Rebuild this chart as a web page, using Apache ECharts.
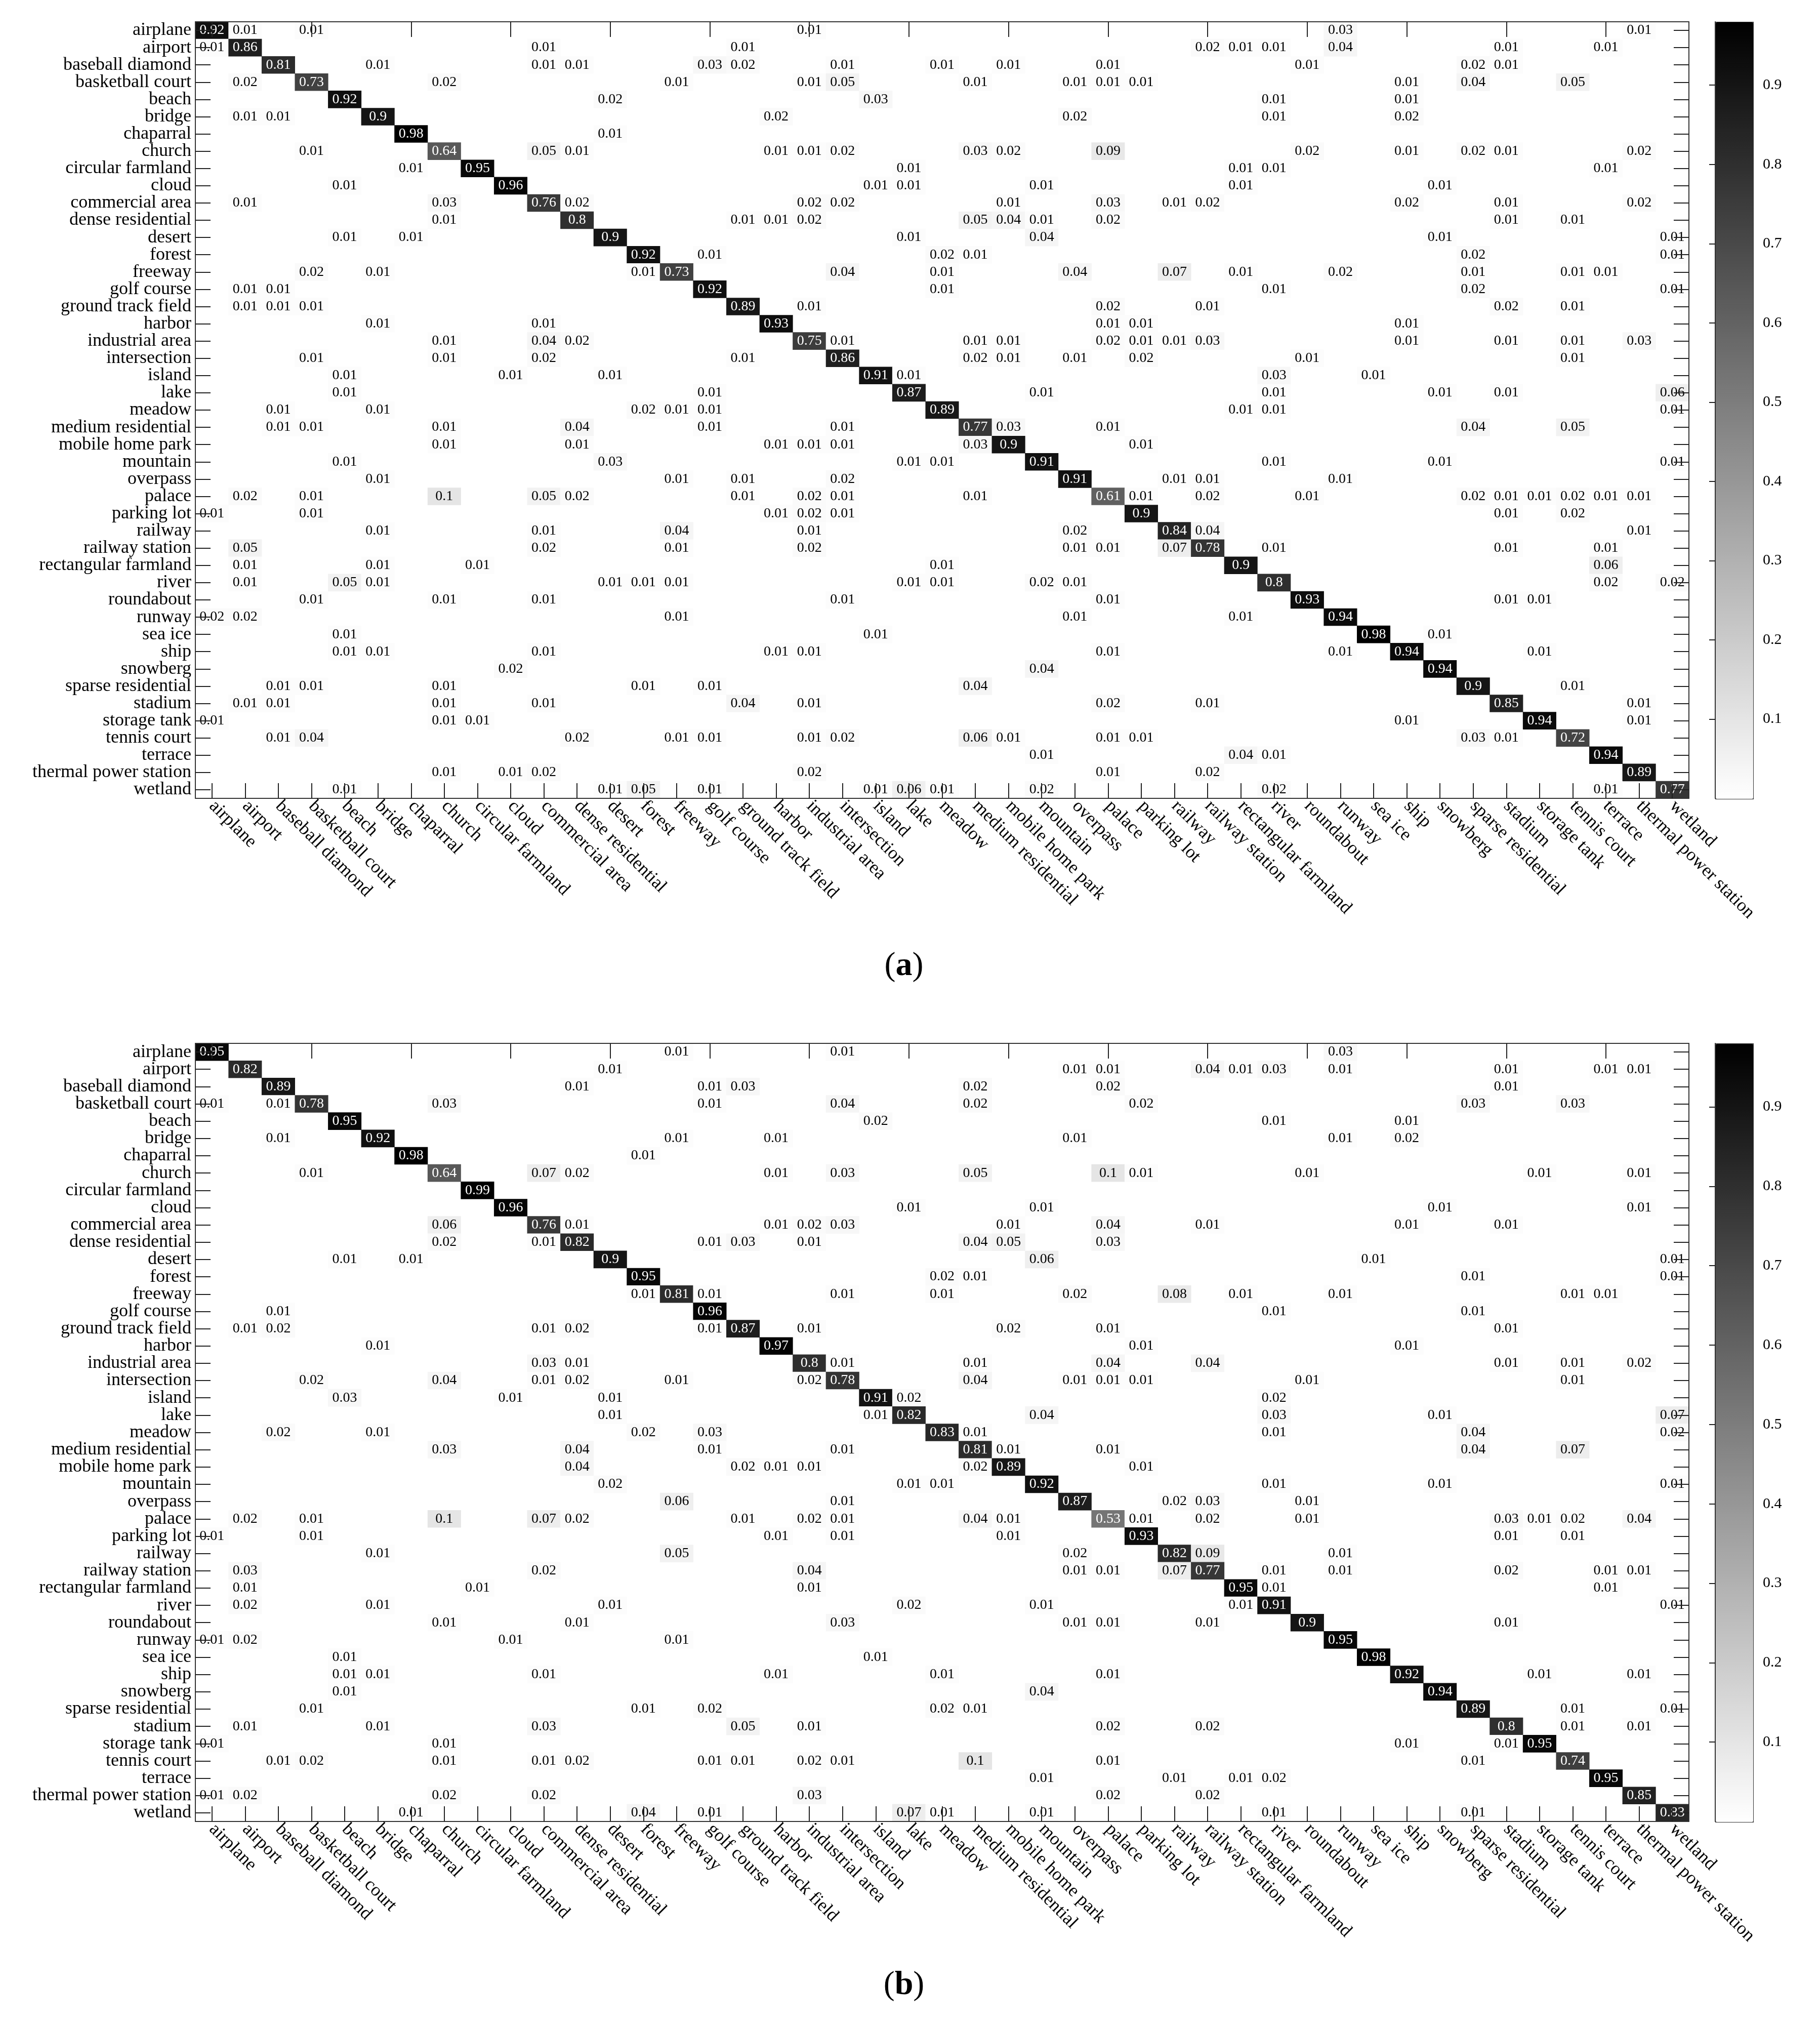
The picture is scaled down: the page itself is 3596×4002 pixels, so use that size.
<!DOCTYPE html>
<html>
<head>
<meta charset="utf-8">
<script src="https://cdn.jsdelivr.net/npm/echarts@6/dist/echarts.min.js"></script>
<style>
  html, body { margin: 0; padding: 0; background: #fff; }
  #chart { width: 3596px; height: 4002px; }
</style>
</head>
<body>
<div id="chart"></div>
<script>
// class names (rows = true class, columns = predicted class)
const classes = [
  'airplane', 'airport', 'baseball diamond', 'basketball court', 'beach', 'bridge',
  'chaparral', 'church', 'circular farmland', 'cloud', 'commercial area',
  'dense residential', 'desert', 'forest', 'freeway', 'golf course',
  'ground track field', 'harbor', 'industrial area', 'intersection', 'island',
  'lake', 'meadow', 'medium residential', 'mobile home park', 'mountain',
  'overpass', 'palace', 'parking lot', 'railway', 'railway station',
  'rectangular farmland', 'river', 'roundabout', 'runway', 'sea ice', 'ship',
  'snowberg', 'sparse residential', 'stadium', 'storage tank', 'tennis court',
  'terrace', 'thermal power station', 'wetland'
];

// matrix (a): one row per true class, [column, value] for non-zero cells
const confA = [
  [[0,0.92],[1,0.01],[3,0.01],[18,0.01],[34,0.03],[43,0.01]],
  [[0,0.01],[1,0.86],[10,0.01],[16,0.01],[30,0.02],[31,0.01],[32,0.01],[34,0.04],[39,0.01],[42,0.01]],
  [[2,0.81],[5,0.01],[10,0.01],[11,0.01],[15,0.03],[16,0.02],[19,0.01],[22,0.01],[24,0.01],[27,0.01],[33,0.01],[38,0.02],[39,0.01]],
  [[1,0.02],[3,0.73],[7,0.02],[14,0.01],[18,0.01],[19,0.05],[23,0.01],[26,0.01],[27,0.01],[28,0.01],[36,0.01],[38,0.04],[41,0.05]],
  [[4,0.92],[12,0.02],[20,0.03],[32,0.01],[36,0.01]],
  [[1,0.01],[2,0.01],[5,0.9],[17,0.02],[26,0.02],[32,0.01],[36,0.02]],
  [[6,0.98],[12,0.01]],
  [[3,0.01],[7,0.64],[10,0.05],[11,0.01],[17,0.01],[18,0.01],[19,0.02],[23,0.03],[24,0.02],[27,0.09],[33,0.02],[36,0.01],[38,0.02],[39,0.01],[43,0.02]],
  [[6,0.01],[8,0.95],[21,0.01],[31,0.01],[32,0.01],[42,0.01]],
  [[4,0.01],[9,0.96],[20,0.01],[21,0.01],[25,0.01],[31,0.01],[37,0.01]],
  [[1,0.01],[7,0.03],[10,0.76],[11,0.02],[18,0.02],[19,0.02],[24,0.01],[27,0.03],[29,0.01],[30,0.02],[36,0.02],[39,0.01],[43,0.02]],
  [[7,0.01],[11,0.8],[16,0.01],[17,0.01],[18,0.02],[23,0.05],[24,0.04],[25,0.01],[27,0.02],[39,0.01],[41,0.01]],
  [[4,0.01],[6,0.01],[12,0.9],[21,0.01],[25,0.04],[37,0.01],[44,0.01]],
  [[13,0.92],[15,0.01],[22,0.02],[23,0.01],[38,0.02],[44,0.01]],
  [[3,0.02],[5,0.01],[13,0.01],[14,0.73],[19,0.04],[22,0.01],[26,0.04],[29,0.07],[31,0.01],[34,0.02],[38,0.01],[41,0.01],[42,0.01]],
  [[1,0.01],[2,0.01],[15,0.92],[22,0.01],[32,0.01],[38,0.02],[44,0.01]],
  [[1,0.01],[2,0.01],[3,0.01],[16,0.89],[18,0.01],[27,0.02],[30,0.01],[39,0.02],[41,0.01]],
  [[5,0.01],[10,0.01],[17,0.93],[27,0.01],[28,0.01],[36,0.01]],
  [[7,0.01],[10,0.04],[11,0.02],[18,0.75],[19,0.01],[23,0.01],[24,0.01],[27,0.02],[28,0.01],[29,0.01],[30,0.03],[36,0.01],[39,0.01],[41,0.01],[43,0.03]],
  [[3,0.01],[7,0.01],[10,0.02],[16,0.01],[19,0.86],[23,0.02],[24,0.01],[26,0.01],[28,0.02],[33,0.01],[41,0.01]],
  [[4,0.01],[9,0.01],[12,0.01],[20,0.91],[21,0.01],[32,0.03],[35,0.01]],
  [[4,0.01],[15,0.01],[21,0.87],[25,0.01],[32,0.01],[37,0.01],[39,0.01],[44,0.06]],
  [[2,0.01],[5,0.01],[13,0.02],[14,0.01],[15,0.01],[22,0.89],[31,0.01],[32,0.01],[44,0.01]],
  [[2,0.01],[3,0.01],[7,0.01],[11,0.04],[15,0.01],[19,0.01],[23,0.77],[24,0.03],[27,0.01],[38,0.04],[41,0.05]],
  [[7,0.01],[11,0.01],[17,0.01],[18,0.01],[19,0.01],[23,0.03],[24,0.9],[28,0.01]],
  [[4,0.01],[12,0.03],[21,0.01],[22,0.01],[25,0.91],[32,0.01],[37,0.01],[44,0.01]],
  [[5,0.01],[14,0.01],[16,0.01],[19,0.02],[26,0.91],[29,0.01],[30,0.01],[34,0.01]],
  [[1,0.02],[3,0.01],[7,0.1],[10,0.05],[11,0.02],[16,0.01],[18,0.02],[19,0.01],[23,0.01],[27,0.61],[28,0.01],[30,0.02],[33,0.01],[38,0.02],[39,0.01],[40,0.01],[41,0.02],[42,0.01],[43,0.01]],
  [[0,0.01],[3,0.01],[17,0.01],[18,0.02],[19,0.01],[28,0.9],[39,0.01],[41,0.02]],
  [[5,0.01],[10,0.01],[14,0.04],[18,0.01],[26,0.02],[29,0.84],[30,0.04],[43,0.01]],
  [[1,0.05],[10,0.02],[14,0.01],[18,0.02],[26,0.01],[27,0.01],[29,0.07],[30,0.78],[32,0.01],[39,0.01],[42,0.01]],
  [[1,0.01],[5,0.01],[8,0.01],[22,0.01],[31,0.9],[42,0.06]],
  [[1,0.01],[4,0.05],[5,0.01],[12,0.01],[13,0.01],[14,0.01],[21,0.01],[22,0.01],[25,0.02],[26,0.01],[32,0.8],[42,0.02],[44,0.02]],
  [[3,0.01],[7,0.01],[10,0.01],[19,0.01],[27,0.01],[33,0.93],[39,0.01],[40,0.01]],
  [[0,0.02],[1,0.02],[14,0.01],[26,0.01],[31,0.01],[34,0.94]],
  [[4,0.01],[20,0.01],[35,0.98],[37,0.01]],
  [[4,0.01],[5,0.01],[10,0.01],[17,0.01],[18,0.01],[27,0.01],[34,0.01],[36,0.94],[40,0.01]],
  [[9,0.02],[25,0.04],[37,0.94]],
  [[2,0.01],[3,0.01],[7,0.01],[13,0.01],[15,0.01],[23,0.04],[38,0.9],[41,0.01]],
  [[1,0.01],[2,0.01],[7,0.01],[10,0.01],[16,0.04],[18,0.01],[27,0.02],[30,0.01],[39,0.85],[43,0.01]],
  [[0,0.01],[7,0.01],[8,0.01],[36,0.01],[40,0.94],[43,0.01]],
  [[2,0.01],[3,0.04],[11,0.02],[14,0.01],[15,0.01],[18,0.01],[19,0.02],[23,0.06],[24,0.01],[27,0.01],[28,0.01],[38,0.03],[39,0.01],[41,0.72]],
  [[25,0.01],[31,0.04],[32,0.01],[42,0.94]],
  [[7,0.01],[9,0.01],[10,0.02],[18,0.02],[27,0.01],[30,0.02],[43,0.89]],
  [[4,0.01],[12,0.01],[13,0.05],[15,0.01],[20,0.01],[21,0.06],[22,0.01],[25,0.02],[32,0.02],[42,0.01],[44,0.77]]
];

// matrix (b)
const confB = [
  [[0,0.95],[14,0.01],[19,0.01],[34,0.03]],
  [[1,0.82],[12,0.01],[26,0.01],[27,0.01],[30,0.04],[31,0.01],[32,0.03],[34,0.01],[39,0.01],[42,0.01],[43,0.01]],
  [[2,0.89],[11,0.01],[15,0.01],[16,0.03],[23,0.02],[27,0.02],[39,0.01]],
  [[0,0.01],[2,0.01],[3,0.78],[7,0.03],[15,0.01],[19,0.04],[23,0.02],[28,0.02],[38,0.03],[41,0.03]],
  [[4,0.95],[20,0.02],[32,0.01],[36,0.01]],
  [[2,0.01],[5,0.92],[14,0.01],[17,0.01],[26,0.01],[34,0.01],[36,0.02]],
  [[6,0.98],[13,0.01]],
  [[3,0.01],[7,0.64],[10,0.07],[11,0.02],[17,0.01],[19,0.03],[23,0.05],[27,0.1],[28,0.01],[33,0.01],[40,0.01],[43,0.01]],
  [[8,0.99]],
  [[9,0.96],[21,0.01],[25,0.01],[37,0.01],[43,0.01]],
  [[7,0.06],[10,0.76],[11,0.01],[17,0.01],[18,0.02],[19,0.03],[24,0.01],[27,0.04],[30,0.01],[36,0.01],[39,0.01]],
  [[7,0.02],[10,0.01],[11,0.82],[15,0.01],[16,0.03],[18,0.01],[23,0.04],[24,0.05],[27,0.03]],
  [[4,0.01],[6,0.01],[12,0.9],[25,0.06],[35,0.01],[44,0.01]],
  [[13,0.95],[22,0.02],[23,0.01],[38,0.01],[44,0.01]],
  [[13,0.01],[14,0.81],[15,0.01],[19,0.01],[22,0.01],[26,0.02],[29,0.08],[31,0.01],[34,0.01],[41,0.01],[42,0.01]],
  [[2,0.01],[15,0.96],[32,0.01],[38,0.01]],
  [[1,0.01],[2,0.02],[10,0.01],[11,0.02],[15,0.01],[16,0.87],[18,0.01],[24,0.02],[27,0.01],[39,0.01]],
  [[5,0.01],[17,0.97],[28,0.01],[36,0.01]],
  [[10,0.03],[11,0.01],[18,0.8],[19,0.01],[23,0.01],[27,0.04],[30,0.04],[39,0.01],[41,0.01],[43,0.02]],
  [[3,0.02],[7,0.04],[10,0.01],[11,0.02],[14,0.01],[18,0.02],[19,0.78],[23,0.04],[26,0.01],[27,0.01],[28,0.01],[33,0.01],[41,0.01]],
  [[4,0.03],[9,0.01],[12,0.01],[20,0.91],[21,0.02],[32,0.02]],
  [[12,0.01],[20,0.01],[21,0.82],[25,0.04],[32,0.03],[37,0.01],[44,0.07]],
  [[2,0.02],[5,0.01],[13,0.02],[15,0.03],[22,0.83],[23,0.01],[32,0.01],[38,0.04],[44,0.02]],
  [[7,0.03],[11,0.04],[15,0.01],[19,0.01],[23,0.81],[24,0.01],[27,0.01],[38,0.04],[41,0.07]],
  [[11,0.04],[16,0.02],[17,0.01],[18,0.01],[23,0.02],[24,0.89],[28,0.01]],
  [[12,0.02],[21,0.01],[22,0.01],[25,0.92],[32,0.01],[37,0.01],[44,0.01]],
  [[14,0.06],[19,0.01],[26,0.87],[29,0.02],[30,0.03],[33,0.01]],
  [[1,0.02],[3,0.01],[7,0.1],[10,0.07],[11,0.02],[16,0.01],[18,0.02],[19,0.01],[23,0.04],[24,0.01],[27,0.53],[28,0.01],[30,0.02],[33,0.01],[39,0.03],[40,0.01],[41,0.02],[43,0.04]],
  [[0,0.01],[3,0.01],[17,0.01],[19,0.01],[24,0.01],[28,0.93],[39,0.01],[41,0.01]],
  [[5,0.01],[14,0.05],[26,0.02],[29,0.82],[30,0.09],[34,0.01]],
  [[1,0.03],[10,0.02],[18,0.04],[26,0.01],[27,0.01],[29,0.07],[30,0.77],[32,0.01],[34,0.01],[39,0.02],[42,0.01],[43,0.01]],
  [[1,0.01],[8,0.01],[18,0.01],[31,0.95],[32,0.01],[42,0.01]],
  [[1,0.02],[5,0.01],[12,0.01],[21,0.02],[25,0.01],[31,0.01],[32,0.91],[44,0.01]],
  [[7,0.01],[11,0.01],[19,0.03],[26,0.01],[27,0.01],[30,0.01],[33,0.9],[39,0.01]],
  [[0,0.01],[1,0.02],[9,0.01],[14,0.01],[34,0.95]],
  [[4,0.01],[20,0.01],[35,0.98]],
  [[4,0.01],[5,0.01],[10,0.01],[17,0.01],[22,0.01],[27,0.01],[36,0.92],[40,0.01],[43,0.01]],
  [[4,0.01],[25,0.04],[37,0.94]],
  [[3,0.01],[13,0.01],[15,0.02],[22,0.02],[23,0.01],[38,0.89],[41,0.01],[44,0.01]],
  [[1,0.01],[5,0.01],[10,0.03],[16,0.05],[18,0.01],[27,0.02],[30,0.02],[39,0.8],[41,0.01],[43,0.01]],
  [[0,0.01],[7,0.01],[36,0.01],[39,0.01],[40,0.95]],
  [[2,0.01],[3,0.02],[7,0.01],[10,0.01],[11,0.02],[15,0.01],[16,0.01],[18,0.02],[19,0.01],[23,0.1],[27,0.01],[38,0.01],[41,0.74]],
  [[25,0.01],[29,0.01],[31,0.01],[32,0.02],[42,0.95]],
  [[0,0.01],[1,0.02],[7,0.02],[10,0.02],[18,0.03],[27,0.02],[30,0.02],[43,0.85]],
  [[6,0.01],[13,0.04],[15,0.01],[21,0.07],[22,0.01],[25,0.01],[32,0.01],[38,0.01],[44,0.83]]
];

// colour bar scale
const barMin = 0;
const barMax = 0.98;
const barStep = 0.1;

const FONT = 'Liberation Serif';
const LINE = '#333';

// layout of the two panels
const panels = [
  { top: 43, height: 1534, caption: 'a', captionY: 1909 },
  { top: 2061, height: 1537, caption: 'b', captionY: 3922 }
];
const matLeft = 386, matWidth = 2951;
const barLeft = 3389, barWidth = 74;

function toCells(rows) {
  const out = [];
  rows.forEach((row, r) => {
    row.forEach(([c, v]) => {
      out.push({ value: [c, r, v], label: { color: v > 0.3 ? '#fff' : '#000' } });
    });
  });
  return out;
}

const tick = { show: true, inside: true, length: 30, alignWithLabel: true, lineStyle: { color: '#222', width: 2 } };
const axLine = { show: true, lineStyle: { color: LINE, width: 2 } };

const grid = [], xAxis = [], yAxis = [], series = [], visualMap = [], graphic = [];

panels.forEach((p, i) => {
  const g = grid.length;
  grid.push({ left: matLeft, top: p.top, width: matWidth, height: p.height });
  grid.push({ left: barLeft, top: p.top, width: barWidth, height: p.height });

  xAxis.push({
    gridIndex: g, type: 'category', data: classes, position: 'bottom', z: 10,
    axisLine: axLine, axisTick: tick, splitLine: { show: false },
    axisLabel: { interval: 0, rotate: -45, margin: 10, fontFamily: FONT, fontSize: 36, color: '#000' }
  });
  xAxis.push({
    gridIndex: g, type: 'category', data: classes, position: 'top', z: 10,
    axisLine: axLine, axisTick: tick, axisLabel: { show: false }
  });
  xAxis.push({ gridIndex: g + 1, type: 'value', show: false, min: 0, max: 1 });

  yAxis.push({
    gridIndex: g, type: 'category', data: classes, inverse: true, position: 'left', z: 10,
    axisLine: axLine, axisTick: tick, splitLine: { show: false },
    axisLabel: { interval: 0, margin: 8, fontFamily: FONT, fontSize: 36, color: '#000' }
  });
  yAxis.push({
    gridIndex: g, type: 'category', data: classes, inverse: true, position: 'right', z: 10,
    axisLine: axLine, axisTick: tick, axisLabel: { show: false }
  });
  yAxis.push({
    gridIndex: g + 1, type: 'value', min: barMin, max: barMax, interval: barStep,
    position: 'right', z: 10,
    axisLine: axLine,
    axisTick: { show: true, inside: true, length: 12, lineStyle: { color: '#222', width: 2 } },
    splitLine: { show: false },
    axisLabel: {
      showMinLabel: false, showMaxLabel: false, margin: 20,
      fontFamily: FONT, fontSize: 30, color: '#000',
      formatter: v => v.toFixed(1)
    }
  });

  series.push({
    type: 'heatmap',
    xAxisIndex: xAxis.length - 3,
    yAxisIndex: yAxis.length - 3,
    data: toCells(i === 0 ? confA : confB),
    label: { show: true, fontFamily: FONT, fontSize: 28, formatter: q => String(q.value[2]) },
    emphasis: { disabled: true }
  });

  visualMap.push({
    type: 'continuous', seriesIndex: i, min: barMin, max: barMax,
    orient: 'vertical', left: barLeft, top: p.top,
    itemWidth: barWidth, itemHeight: p.height, padding: 0,
    calculable: false, hoverLink: false, text: null,
    formatter: () => '',
    borderColor: LINE, borderWidth: 2,
    inRange: { color: ['#ffffff', '#000000'] }
  });

  graphic.push({
    type: 'text', x: 1786, y: p.captionY,
    style: {
      text: '{p|(}{b|' + p.caption + '}{p|)}',
      align: 'center', verticalAlign: 'middle',
      rich: {
        p: { fontFamily: FONT, fontSize: 66, fill: '#000' },
        b: { fontFamily: FONT, fontSize: 66, fontWeight: 'bold', fill: '#000' }
      }
    }
  });
});

const chart = echarts.init(document.getElementById('chart'));
chart.setOption({
  animation: false,
  backgroundColor: '#fff',
  grid, xAxis, yAxis, series, visualMap, graphic
});
</script>
</body>
</html>
